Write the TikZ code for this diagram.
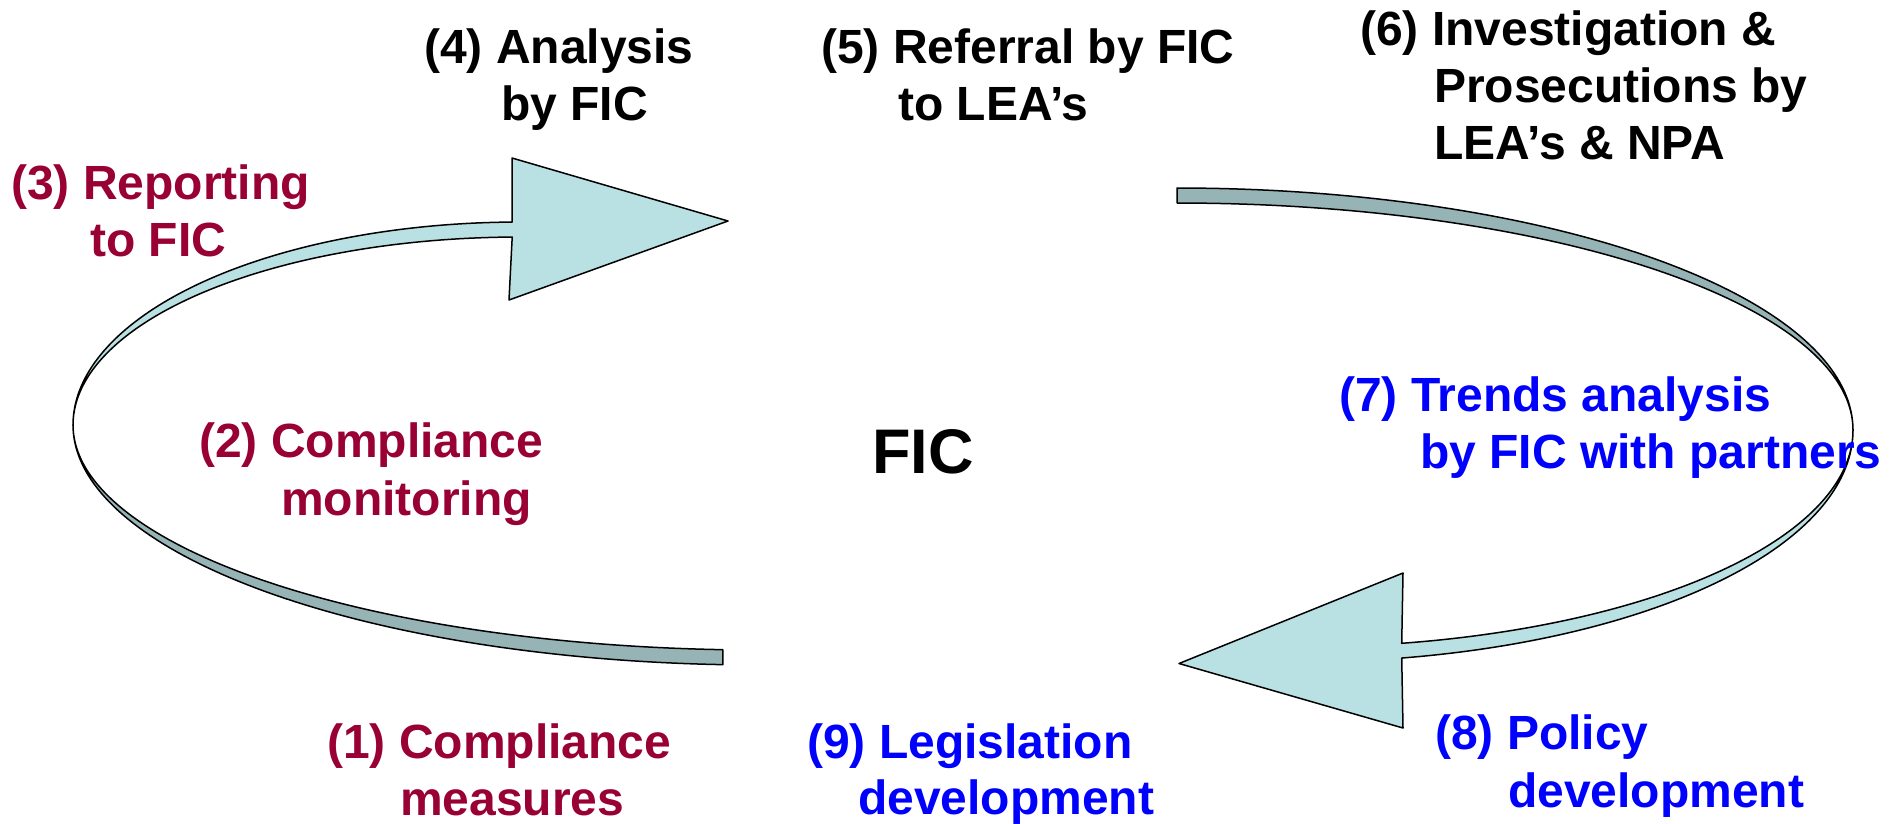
\documentclass[tikz,border=0pt]{standalone}
\usepackage{fontspec}
\setmainfont{Liberation Sans}
\definecolor{ribbonlight}{RGB}{185,224,227}
\definecolor{ribbondark}{RGB}{150,179,182}
\definecolor{labelred}{RGB}{153,0,51}
\definecolor{labelblue}{RGB}{0,0,255}
\tikzset{
  lbl/.style={anchor=base west, inner sep=0pt, font=\fontsize{48}{57}\selectfont\bfseries},
  redlbl/.style={lbl, text=labelred},
  bluelbl/.style={lbl, text=labelblue},
  blacklbl/.style={lbl, text=black},
  lightribbon/.style={fill=ribbonlight, draw=black, line width=1.5pt, line join=round},
  darkribbon/.style={fill=ribbondark, draw=black, line width=1.5pt, line join=round},
}
\begin{document}
\begin{tikzpicture}[x=1pt, y=-1pt]
\useasboundingbox (0,0) rectangle (1902,823);

% left loop: lower (dark) strip
\path[darkribbon] plot[domain=180:93.1, samples=80, variable=\t] ({760+687*cos(\t)},{425+240*sin(\t)})
  -- plot[domain=93.1:180, samples=80, variable=\t] ({760+687*cos(\t)},{425+225*sin(\t)}) -- cycle;
% left loop: upper (light) strip with head
\path[lightribbon] plot[domain=180:269, samples=80, variable=\t] ({520+447*cos(\t)},{425+203*sin(\t)})
  -- (512,158) -- (728,221) -- (509,300)
  -- plot[domain=269:180, samples=80, variable=\t] ({520+447*cos(\t)},{425+188*sin(\t)}) -- cycle;

% right loop: upper (dark) strip
\path[darkribbon] plot[domain=270:360, samples=80, variable=\t] ({1177+676*cos(\t)},{430+242*sin(\t)})
  -- plot[domain=360:270, samples=80, variable=\t] ({1177+676*cos(\t)},{430+227*sin(\t)}) -- cycle;
% right loop: lower (light) strip with head
\path[lightribbon] plot[domain=0:79.4, samples=80, variable=\t] ({1300+553*cos(\t)},{430+232*sin(\t)})
  -- (1403,728) -- (1179,663.5) -- (1403,573)
  -- plot[domain=79.4:0, samples=80, variable=\t] ({1300+553*cos(\t)},{430+217*sin(\t)}) -- cycle;

% centre
\node[anchor=base, inner sep=0pt, font=\fontsize{63}{70}\selectfont\bfseries] (fic) at (923,473) {FIC};

% labels
\node[blacklbl] (l4a) at (424,63) {(4) Analysis};
\node[blacklbl] (l4b) at (501,120) {by FIC};
\node[blacklbl] (l5a) at (821,63) {(5) Referral by FIC};
\node[blacklbl] (l5b) at (898,120) {to LEA’s};
\node[blacklbl] (l6a) at (1360,45) {(6) Investigation \&};
\node[blacklbl] (l6b) at (1434,102) {Prosecutions by};
\node[blacklbl] (l6c) at (1434,159) {LEA’s \& NPA};

\node[redlbl] (l3a) at (11,199) {(3) Reporting};
\node[redlbl] (l3b) at (90,256) {to FIC};
\node[redlbl] (l2a) at (199,457) {(2) Compliance};
\node[redlbl] (l2b) at (281,515) {monitoring};
\node[redlbl] (l1a) at (327,758) {(1) Compliance};
\node[redlbl] (l1b) at (400,815) {measures};

\node[bluelbl] (l7a) at (1339,411) {(7) Trends analysis};
\node[bluelbl] (l7b) at (1420,468) {by FIC with partners};
\node[bluelbl] (l9a) at (807,758) {(9) Legislation};
\node[bluelbl] (l9b) at (858,814) {development};
\node[bluelbl] (l8a) at (1435,749) {(8) Policy};
\node[bluelbl] (l8b) at (1508,807) {development};
\end{tikzpicture}
\end{document}
